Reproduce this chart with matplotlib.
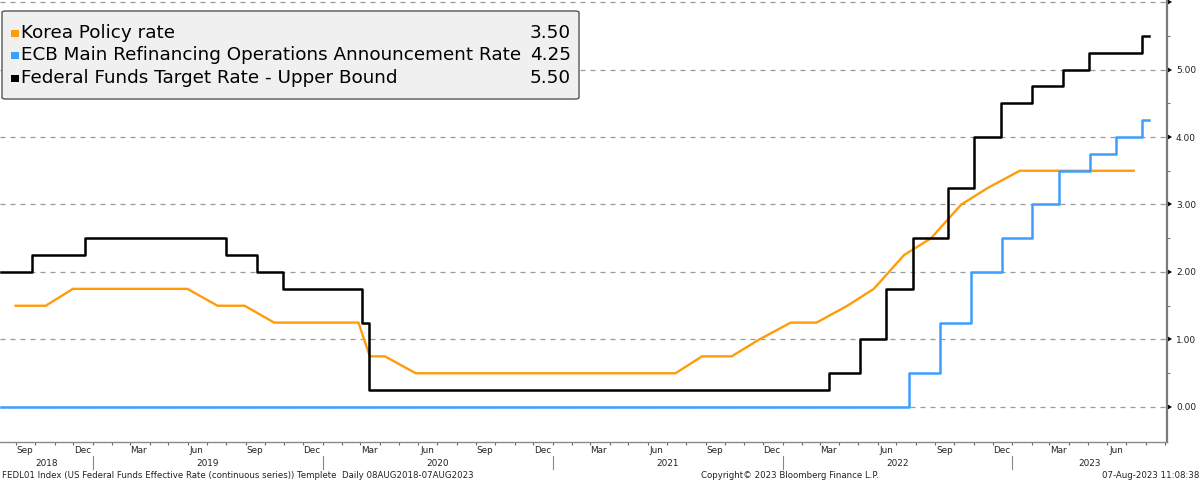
import matplotlib
matplotlib.use("Agg")
import matplotlib.pyplot as plt
import matplotlib.dates as mdates
import matplotlib.markers as mmarkers
from matplotlib.patches import FancyBboxPatch, Rectangle
from matplotlib.transforms import blended_transform_factory
import datetime as dt
import numpy as np

# ---------------- data ----------------
fed_dates = ["2018-08-08", "2018-09-26", "2018-12-19", "2019-07-31", "2019-09-18",
             "2019-10-30", "2020-03-03", "2020-03-15", "2022-03-16", "2022-05-04",
             "2022-06-15", "2022-07-27", "2022-09-21", "2022-11-02", "2022-12-14",
             "2023-02-01", "2023-03-22", "2023-05-03", "2023-07-26", "2023-08-07"]
fed_values = [2.00, 2.25, 2.50, 2.25, 2.00, 1.75, 1.25, 0.25, 0.50, 1.00,
              1.75, 2.50, 3.25, 4.00, 4.50, 4.75, 5.00, 5.25, 5.50, 5.50]

ecb_dates = ["2018-08-08", "2022-07-21", "2022-09-08", "2022-10-27", "2022-12-15",
             "2023-02-02", "2023-03-16", "2023-05-04", "2023-06-15", "2023-07-27",
             "2023-08-07"]
ecb_values = [0.00, 0.50, 1.25, 2.00, 2.50, 3.00, 3.50, 3.75, 4.00, 4.25, 4.25]

korea_dates = ["2018-08-31", "2018-10-18", "2018-11-30", "2019-05-31", "2019-07-18",
               "2019-08-30", "2019-10-16", "2020-02-27", "2020-03-16", "2020-04-09",
               "2020-05-28", "2021-07-15", "2021-08-26", "2021-10-12", "2021-11-25",
               "2022-01-14", "2022-02-24", "2022-04-14", "2022-05-26", "2022-07-13",
               "2022-08-25", "2022-10-12", "2022-11-24", "2023-01-13", "2023-07-13"]
korea_values = [1.50, 1.50, 1.75, 1.75, 1.50, 1.50, 1.25, 1.25, 0.75, 0.75,
                0.50, 0.50, 0.75, 0.75, 1.00, 1.25, 1.25, 1.50, 1.75, 2.25,
                2.50, 3.00, 3.25, 3.50, 3.50]

legend_names = ["Korea Policy rate",
                "ECB Main Refinancing Operations Announcement Rate",
                "Federal Funds Target Rate - Upper Bound"]
legend_values = ["3.50", "4.25", "5.50"]

y_ticks = [0, 1, 2, 3, 4, 5, 6]
y_labels = ["0.00", "1.00", "2.00", "3.00", "4.00", "5.00", ""]
month_labels = {3: "Mar", 6: "Jun", 9: "Sep", 12: "Dec"}
years = [2018, 2019, 2020, 2021, 2022, 2023]

footer_left = "FEDL01 Index (US Federal Funds Effective Rate (continuous series)) Templete  Daily 08AUG2018-07AUG2023"
footer_mid = "Copyright\u00a9 2023 Bloomberg Finance L.P."
footer_right = "07-Aug-2023 11:08:38"

# ---------------- style ----------------
ORANGE = "#FF9C0A"
BLUE = "#3C9EFF"
BLACK = "#000000"
FONT = ["DejaVu Sans"]

def todate(s):
    return dt.datetime.strptime(s, "%Y-%m-%d")

W, H = 1200, 482
fig = plt.figure(figsize=(W / 100, H / 100), dpi=100)
ax = fig.add_axes([0, 1 - 442 / H, 1167 / W, 442 / H])

ax.plot([todate(d) for d in korea_dates], korea_values, color=ORANGE, lw=1.7,
        zorder=3, solid_joinstyle="miter")
ax.plot([todate(d) for d in fed_dates], fed_values, color=BLACK, lw=1.8,
        drawstyle="steps-post", zorder=4)
ax.plot([todate(d) for d in ecb_dates], ecb_values, color=BLUE, lw=1.8,
        drawstyle="steps-post", zorder=5)

x_left = dt.datetime(2018, 8, 6, 6)
x_right = dt.datetime(2023, 9, 4, 0)
ax.set_xlim(x_left, x_right)
ax.set_ylim(-0.519, 6.03)

# spines
for s in ["top", "left"]:
    ax.spines[s].set_visible(False)
ax.spines["bottom"].set_color("#8a8a8a")
ax.spines["bottom"].set_linewidth(1.0)
ax.spines["right"].set_color("#7a7a7a")
ax.spines["right"].set_linewidth(1.6)

# y axis on right
ax.yaxis.tick_right()
ax.set_yticks(y_ticks)
ax.set_yticklabels(y_labels)
ax.set_yticks(np.arange(0.5, 6, 1.0), minor=True)
ax.tick_params(axis="y", which="major", length=0, pad=6.5, labelsize=6.5,
               labelcolor="#222222")
ax.tick_params(axis="y", which="minor", direction="out", length=2.5,
               width=0.8, color="#777777")
for t in ax.yaxis.get_major_ticks():
    t.tick2line.set_marker(mmarkers.CARETRIGHTBASE)
    t.tick2line.set_markersize(4.5)
    t.tick2line.set_color("black")
    t.tick2line.set_markeredgewidth(0)
ax.grid(axis="y", which="major", color="#9a9a9a", linestyle=(0, (4, 4)),
        linewidth=0.9)
ax.set_axisbelow(True)

# x axis: month ticks and quarterly labels
month_starts = []
d = dt.datetime(2018, 9, 1)
while d <= x_right:
    month_starts.append(d)
    d = dt.datetime(d.year + (d.month // 12), d.month % 12 + 1, 1)
ax.set_xticks(month_starts)
ax.set_xticklabels([])
ax.tick_params(axis="x", which="major", direction="out", length=2.5, width=0.8,
               color="#666666")
lab_pos, lab_txt = [], []
for y in years:
    for m, name in month_labels.items():
        p = dt.datetime(y, m, 15)
        if x_left <= p <= x_right:
            lab_pos.append(p)
            lab_txt.append(name)
ax.set_xticks(lab_pos, minor=True)
ax.set_xticklabels(lab_txt, minor=True)
ax.tick_params(axis="x", which="minor", length=0, pad=3.2, labelsize=6.4,
               labelcolor="#222222")

trans = blended_transform_factory(ax.transData, fig.transFigure)
for y in years:
    a = max(mdates.date2num(dt.datetime(y, 1, 1)), mdates.date2num(x_left))
    b = min(mdates.date2num(dt.datetime(y + 1, 1, 1)), mdates.date2num(x_right))
    fig.text((a + b) / 2, 1 - 463 / H, str(y), transform=trans, ha="center",
             va="center", fontsize=6.4, color="#222222", family=FONT)
    if y > years[0]:
        sep = mdates.date2num(dt.datetime(y, 1, 1))
        fig.add_artist(plt.Line2D([sep, sep], [1 - 456 / H, 1 - 469 / H],
                                  transform=trans, color="#888888", lw=0.8))

# footer
fig.text(2 / W, 1 - 476 / H, footer_left, ha="left", va="center", fontsize=6.25,
         color="#222222", family=FONT)
fig.text(790 / W, 1 - 476 / H, footer_mid, ha="center", va="center", fontsize=6.25,
         color="#222222", family=FONT)
fig.text(1199 / W, 1 - 476 / H, footer_right, ha="right", va="center", fontsize=6.25,
         color="#222222", family=FONT)

# legend box
box = FancyBboxPatch((2 / W, 1 - 99 / H), 577 / W, 88 / H,
                     boxstyle="round,pad=0,rounding_size=0.003",
                     transform=fig.transFigure, facecolor="#F0F0F0",
                     edgecolor="#555555", linewidth=1.0, zorder=10)
fig.add_artist(box)
colors = [ORANGE, BLUE, BLACK]
rows_y = [33, 55, 78]
for name, val, c, ry in zip(legend_names, legend_values, colors, rows_y):
    fig.add_artist(Rectangle((11 / W, 1 - (ry + 4) / H), 7.5 / W, 7.5 / H,
                             transform=fig.transFigure, facecolor=c,
                             edgecolor="none", zorder=11))
    fig.text(21 / W, 1 - ry / H, name, ha="left", va="center", fontsize=13.2,
             color="#000000", family=FONT, zorder=12)
    fig.text(571 / W, 1 - ry / H, val, ha="right", va="center", fontsize=13.2,
             color="#000000", family=FONT, zorder=12)

fig.savefig("out.png", dpi=100)
